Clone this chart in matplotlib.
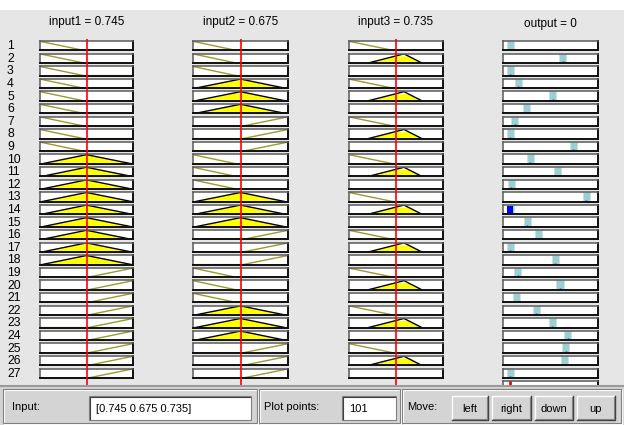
import numpy as np
import matplotlib
matplotlib.use('Agg')
import matplotlib.pyplot as plt
from matplotlib.patches import Rectangle

plt.rcParams['font.family'] = ['Liberation Sans', 'DejaVu Sans']

# ---------------- data ----------------
input_names = ['input1', 'input2', 'input3']
input_values = [0.745, 0.675, 0.735]
input_ranges = [(0.0, 1.49), (0.0, 1.35), (0.0, 1.47)]
output_name = 'output'
output_value = 0
output_range = (-0.1, 1.25)

# membership functions (breakpoints) per input: index 1=low, 2=mid, 3=high
in1_mfs = {1: ([0.0, 0.70, 1.49], [1, 0, 0]),
           2: ([0.03, 0.745, 1.47], [0, 1, 0]),
           3: ([0.0, 0.77, 1.49], [0, 0, 1])}
in2_mfs = {1: ([0.0, 0.61, 1.35], [1, 0, 0]),
           2: ([0.03, 0.675, 1.31], [0, 1, 0]),
           3: ([0.0, 0.71, 1.35], [0, 0, 1])}
in3_mfs = {1: ([0.0, 0.69, 1.47], [1, 0, 0]),
           2: ([0.30, 0.86, 1.14], [0, 1, 0]),
           3: None}
input_mfs = [in1_mfs, in2_mfs, in3_mfs]

rule_in1 = [1, 1, 1, 1, 1, 1, 1, 1, 1,
            2, 2, 2, 2, 2, 2, 2, 2, 2,
            3, 3, 3, 3, 3, 3, 3, 3, 3]
rule_in2 = [1, 1, 1, 2, 2, 2, 3, 3, 3,
            1, 1, 1, 2, 2, 2, 3, 3, 3,
            1, 1, 1, 2, 2, 2, 3, 3, 3]
rule_in3 = [1, 2, 3, 1, 2, 3, 1, 2, 3,
            1, 2, 3, 1, 2, 3, 1, 2, 3,
            1, 2, 3, 1, 2, 3, 1, 2, 3]
rule_inputs = [rule_in1, rule_in2, rule_in3]

rule_outputs = [0.0, 0.75, 0.0, 0.12, 0.61, 0.23, 0.07, 0.0, 0.90,
                0.29, 0.68, 0.02, 1.08, 0.0, 0.245, 0.41, 0.0, 0.64,
                0.11, 0.71, 0.085, 0.37, 0.60, 0.82, 0.79, 0.77, 0.0]
rule_strengths = [0, 0, 0, 0, 0, 0, 0, 0, 0,
                  0, 0, 0, 0, 0.85, 0, 0, 0, 0,
                  0, 0, 0, 0, 0, 0, 0, 0, 0]

# ---------------- layout ----------------
W, H = 624, 425
fig = plt.figure(figsize=(W / 100, H / 100), dpi=100, facecolor='#e6e6e6')
fig.patches.append(Rectangle((0, 1 - 10 / H), 1, 10 / H, transform=fig.transFigure,
                             facecolor='white', edgecolor='none', zorder=0))


def add_ax(left, top, w, h, **kw):
    return fig.add_axes([left / W, 1 - (top + h) / H, w / W, h / H], **kw)


col_left = [40, 193, 349, 503]
col_width = [93, 95, 94, 95]
row_top0 = 41.0
row_pitch = 12.6
row_h = 9.4
n_rules = len(rule_in1)

MF_LINE = '#9a9a30'
YELLOW = '#ffff00'


def style_box(ax):
    ax.set_xticks([])
    ax.set_yticks([])
    ax.set_facecolor('white')
    for s in ['top', 'left']:
        ax.spines[s].set_color('#5a5a5a')
        ax.spines[s].set_linewidth(1.1)
    for s in ['bottom', 'right']:
        ax.spines[s].set_color('#101010')
        ax.spines[s].set_linewidth(1.4)


for r in range(n_rules):
    top = row_top0 + r * row_pitch
    fig.text(7 / W, 1 - (top + row_h / 2 + 0.5) / H, str(r + 1), ha='left', va='center',
             fontsize=8.8)
    for c in range(3):
        ax = add_ax(col_left[c], top, col_width[c], row_h)
        style_box(ax)
        lo, hi = input_ranges[c]
        ax.set_xlim(lo, hi)
        ax.set_ylim(0, 1.03)
        mf = input_mfs[c][rule_inputs[c][r]]
        if mf is None:
            continue
        xs, ys = mf
        deg = float(np.interp(input_values[c], xs, ys))
        xd = np.linspace(lo, hi, 400)
        yd = np.interp(xd, xs, ys)
        if deg > 0.01:
            ax.fill_between(xd, 0, np.minimum(yd, deg), color=YELLOW, lw=0)
            ax.plot(xs, ys, color='black', lw=1.0, solid_joinstyle='miter')
        else:
            ax.plot(xs, ys, color=MF_LINE, lw=1.0)
    # output column
    ax = add_ax(col_left[3], top, col_width[3], row_h)
    style_box(ax)
    ax.set_xlim(*output_range)
    ax.set_ylim(0, 1.03)
    ax.bar(rule_outputs[r], 0.97, width=0.10, bottom=0.06, color='#9dcfd2',
           edgecolor='#c6e3e4', lw=0.6)
    s = rule_strengths[r]
    if s > 0.01:
        ax.bar(rule_outputs[r], s, width=0.075, bottom=0.1, color='#0000ff', lw=0)
    else:
        ax.vlines(rule_outputs[r], 0.0, 0.2, color='#2020ff', lw=1.0)

# aggregated output row (partly hidden by the bottom panel)
top = row_top0 + n_rules * row_pitch
ax = add_ax(col_left[3], top, col_width[3], row_h)
style_box(ax)
ax.set_xlim(*output_range)
ax.set_ylim(0, 1.03)
ax.axvline(output_value, color='red', lw=2.0)

# input value lines
for c in range(3):
    ax = add_ax(col_left[c], 39, col_width[c], 385 - 39)
    ax.set_xlim(*input_ranges[c])
    ax.set_ylim(0, 1)
    ax.axis('off')
    ax.patch.set_alpha(0)
    ax.axvline(input_values[c], color='#ff0000', lw=1.2)

# titles
for c in range(3):
    fig.text((col_left[c] + col_width[c] / 2) / W, 1 - 22 / H,
             f'{input_names[c]} = {input_values[c]}', ha='center', va='center', fontsize=8.5)
fig.text((col_left[3] + col_width[3] / 2) / W, 1 - 24 / H,
         f'{output_name} = {output_value}', ha='center', va='center', fontsize=8.5)

# ---------------- bottom control panel ----------------
ui = fig.add_axes([0, 0, 1, 1])
ui.set_xlim(0, W)
ui.set_ylim(H, 0)
ui.axis('off')
ui.patch.set_alpha(0)
ui.add_patch(Rectangle((0, 385), W, 40, facecolor='#d4d4d4', edgecolor='none'))
ui.plot([0, W], [385.5, 385.5], color='#9a9a9a', lw=1.5)

def frame(x, y, w, h):
    ui.add_patch(Rectangle((x + 1, y + 1), w, h, facecolor='none', edgecolor='white', lw=0.8))
    ui.add_patch(Rectangle((x, y), w, h, facecolor='none', edgecolor='#808080', lw=0.8))

def edit(x, y, w, h, txt):
    ui.add_patch(Rectangle((x, y), w, h, facecolor='white', edgecolor='#808080', lw=0.8))
    ui.plot([x + 1, x + 1, x + w - 1], [y + h - 1, y + 1, y + 1], color='#404040', lw=0.8)
    ui.text(x + 7, y + h / 2 + 0.5, txt, ha='left', va='center', fontsize=8)

def button(x, y, w, h, txt):
    ui.add_patch(Rectangle((x, y), w, h, facecolor='#d4d4d4', edgecolor='none'))
    ui.plot([x, x, x + w], [y + h, y, y], color='white', lw=1.0)
    ui.plot([x, x + w, x + w], [y + h, y + h, y], color='#404040', lw=1.0)
    ui.plot([x + 1, x + w - 1, x + w - 1], [y + h - 1, y + h - 1, y + 1], color='#808080', lw=0.8)
    ui.text(x + w / 2, y + h / 2 + 0.5, txt, ha='center', va='center', fontsize=8)

frame(3, 389, 254, 34)
frame(259, 389, 141, 34)
frame(402, 389, 219, 34)
ui.text(12, 407, 'Input:', ha='left', va='center', fontsize=8)
edit(89, 396, 162, 24, '[0.745 0.675 0.735]')
ui.text(264, 407, 'Plot points:', ha='left', va='center', fontsize=8)
edit(342, 396, 54, 24, '101')
ui.text(407, 407, 'Move:', ha='left', va='center', fontsize=8)
button(452, 396, 36, 24, 'left')
button(492, 396, 39, 24, 'right')
button(535, 396, 38, 24, 'down')
button(577, 396, 38, 24, 'up')

fig.savefig('out.png', dpi=100, facecolor=fig.get_facecolor())
